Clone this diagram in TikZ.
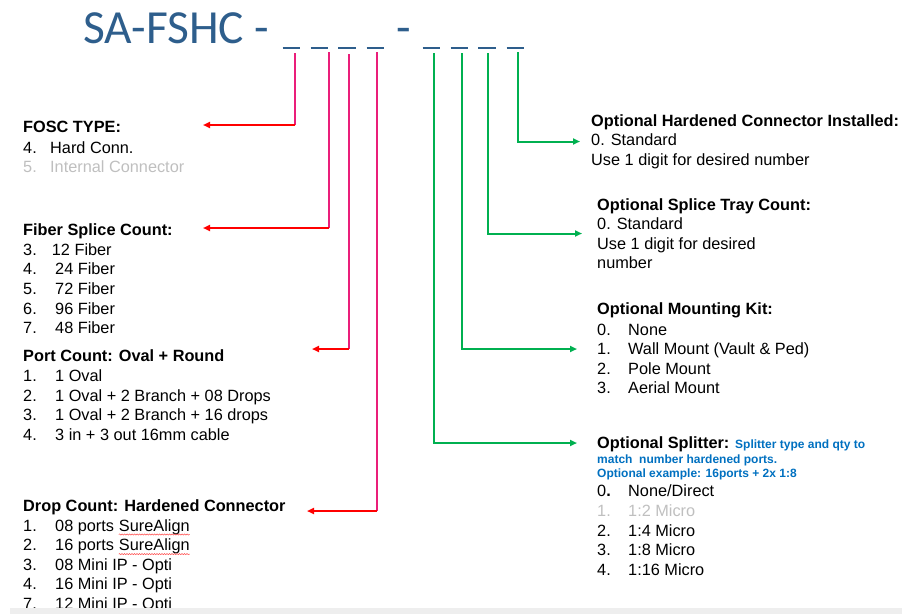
\documentclass[tikz,border=0pt]{standalone}
\usepackage{fontspec}
\setmainfont{Liberation Sans}
\newfontfamily\titlefont{Carlito}
\usetikzlibrary{arrows.meta,decorations.pathmorphing}
\definecolor{titleblue}{RGB}{46,94,140}
\definecolor{pinkline}{RGB}{234,30,122}
\definecolor{redline}{RGB}{255,0,0}
\definecolor{greenline}{RGB}{0,176,80}
\definecolor{noteblue}{RGB}{0,112,192}
\definecolor{grayed}{RGB}{191,191,191}
\definecolor{bandgray}{RGB}{238,238,238}
\begin{document}
\begin{tikzpicture}[x=1pt,y=-1pt,
  txt/.style={anchor=base west, inner sep=0pt, font=\fontsize{16.3}{19}\selectfont},
  hd/.style={anchor=base west, inner sep=0pt, font=\fontsize{16.3}{19}\selectfont\bfseries},
  note/.style={anchor=base west, inner sep=0pt, font=\fontsize{12}{14}\selectfont\bfseries, text=noteblue},
  dim/.style={text=grayed},
  ttl/.style={anchor=base west, inner sep=0pt, font=\titlefont\fontsize{47.5}{50}\selectfont, text=titleblue},
  blank/.style={draw=titleblue, line width=2.4pt},
  pinkv/.style={draw=pinkline, line width=2pt},
  redh/.style={draw=redline, line width=2pt, -{Triangle[length=7pt,width=6pt]}},
  greenl/.style={draw=greenline, line width=2pt, -{Triangle[length=7pt,width=6pt]}},
  squig/.style={draw=redline!70, line width=0.5pt, decorate, decoration={snake, amplitude=0.6pt, segment length=2.5pt}}]
\useasboundingbox (0,0) rectangle (902,614);

% title
\node[ttl] (title) at (83,43.5) {SA-FSHC -};
\node[ttl] (sep) at (396,43.5) {-};

% blanks
\foreach \x in {282.7,310.7,338.3,366.7,422.7,450.7,478.3,506.7}
  \draw[blank] (\x,48) -- ++(17.6,0);

% tops and corners of the connectors
\coordinate (p1) at (295.3,53);  \coordinate (q1) at (295.3,125);  \coordinate (a1) at (203,125);
\coordinate (p2) at (329,52);    \coordinate (q2) at (329,228);    \coordinate (a2) at (203,228);
\coordinate (p3) at (348.7,54);  \coordinate (q3) at (348.7,349);  \coordinate (a3) at (312,349);
\coordinate (p4) at (377,52);    \coordinate (q4) at (377,511);    \coordinate (a4) at (307,511);
\coordinate (g1) at (434,53);    \coordinate (h1) at (434,443);    \coordinate (b1) at (577,443);
\coordinate (g2) at (462,53);    \coordinate (h2) at (462,349);    \coordinate (b2) at (577,349);
\coordinate (g3) at (488,53);    \coordinate (h3) at (488,233.5);  \coordinate (b3) at (582,233.5);
\coordinate (g4) at (517.5,52);  \coordinate (h4) at (517.5,141.5);\coordinate (b4) at (580,141.5);

\draw[pinkv] (p1) -- (q1); \draw[redh] (q1) -- (a1);
\draw[pinkv] (p2) -- (q2); \draw[redh] (q2) -- (a2);
\draw[pinkv] (p3) -- (q3); \draw[redh] (q3) -- (a3);
\draw[pinkv] (p4) -- (q4); \draw[redh] (q4) -- (a4);
\draw[greenl] (g1) -- (h1) -- (b1);
\draw[greenl] (g2) -- (h2) -- (b2);
\draw[greenl] (g3) -- (h3) -- (b3);
\draw[greenl] (g4) -- (h4) -- (b4);

% left column
\node[hd] (fosc) at (23,132.5) {FOSC TYPE:};
\node[txt] (f4n) at (23,153) {4.};       \node[txt] (f4) at (50,153) {Hard Conn.};
\node[txt,dim] (f5n) at (23,172.7) {5.}; \node[txt,dim] (f5) at (50,172.7) {Internal Connector};

\node[hd] (fiber) at (23,235) {Fiber Splice Count:};
\node[txt] (s3n) at (23,255) {3.};   \node[txt] (s3) at (51.7,255) {12 Fiber};
\node[txt] (s4n) at (23,274.7) {4.}; \node[txt] (s4) at (55,274.7) {24 Fiber};
\node[txt] (s5n) at (23,294.4) {5.}; \node[txt] (s5) at (55,294.4) {72 Fiber};
\node[txt] (s6n) at (23,314.1) {6.}; \node[txt] (s6) at (55,314.1) {96 Fiber};
\node[txt] (s7n) at (23,333.8) {7.}; \node[txt] (s7) at (55,333.8) {48 Fiber};

\node[hd] (port) at (23,361) {Port Count: Oval + Round};
\node[txt] (o1n) at (23,381.5) {1.}; \node[txt] (o1) at (55,381.5) {1 Oval};
\node[txt] (o2n) at (23,401) {2.};   \node[txt] (o2) at (55,401) {1 Oval + 2 Branch + 08 Drops};
\node[txt] (o3n) at (23,420.5) {3.}; \node[txt] (o3) at (55,420.5) {1 Oval + 2 Branch + 16 drops};
\node[txt] (o4n) at (23,440) {4.};   \node[txt] (o4) at (55,440) {3 in + 3 out 16mm cable};

\node[hd] (drop) at (23,511.5) {Drop Count: Hardened Connector};
\node[txt] (d1n) at (23,531) {1.};   \node[txt] (d1) at (55,531) {08 ports};
\node[txt] (d1s) at ([xshift=4.5pt]d1.base east) {SureAlign};
\node[txt] (d2n) at (23,550.6) {2.}; \node[txt] (d2) at (55,550.6) {16 ports};
\node[txt] (d2s) at ([xshift=4.5pt]d2.base east) {SureAlign};
\node[txt] (d3n) at (23,570.2) {3.}; \node[txt] (d3) at (55,570.2) {08 Mini IP - Opti};
\node[txt] (d4n) at (23,589.8) {4.}; \node[txt] (d4) at (55,589.8) {16 Mini IP - Opti};
\node[txt] (d7n) at (23,609.4) {7.}; \node[txt] (d7) at (55,609.4) {12 Mini IP - Opti};
\draw[squig] ([yshift=-3.5pt]d1s.base west) -- ([yshift=-3.5pt]d1s.base east);
\draw[squig] ([yshift=-3.5pt]d2s.base west) -- ([yshift=-3.5pt]d2s.base east);

% right column
\node[hd] (hard) at (591,126) {Optional Hardened Connector Installed:};
\node[txt] (h0) at (591,145.7) {0. Standard};
\node[txt] (hu) at (591,165.3) {Use 1 digit for desired number};

\node[hd] (tray) at (597,210) {Optional Splice Tray Count:};
\node[txt] (t0) at (597,229.7) {0. Standard};
\node[txt] (tu) at (597,249.2) {Use 1 digit for desired};
\node[txt] (tu2) at (597,268.7) {number};

\node[hd] (mount) at (597,314.3) {Optional Mounting Kit:};
\node[txt] (m0n) at (597,335) {0.};   \node[txt] (m0) at (628,335) {None};
\node[txt] (m1n) at (597,354.5) {1.}; \node[txt] (m1) at (628,354.5) {Wall Mount (Vault \& Ped)};
\node[txt] (m2n) at (597,374) {2.};   \node[txt] (m2) at (628,374) {Pole Mount};
\node[txt] (m3n) at (597,393.5) {3.}; \node[txt] (m3) at (628,393.5) {Aerial Mount};

\node[hd] (split) at (597,448) {Optional Splitter:};
\node[note] (sn1) at (735,448) {Splitter type and qty to};
\node[note] (sn2) at (597,463.3) {match\ \ number hardened ports.};
\node[note] (sn3) at (597,477.5) {Optional example: 16ports + 2x 1:8};
\node[txt] (x0n) at (597,496.7) {0\textbf{.}}; \node[txt] (x0) at (628,496.7) {None/Direct};
\node[txt,dim] (x1n) at (597,516.3) {1.};     \node[txt,dim] (x1) at (628,516.3) {1:2 Micro};
\node[txt] (x2n) at (597,536) {2.};   \node[txt] (x2) at (628,536) {1:4 Micro};
\node[txt] (x3n) at (597,555.7) {3.}; \node[txt] (x3) at (628,555.7) {1:8 Micro};
\node[txt] (x4n) at (597,575.3) {4.}; \node[txt] (x4) at (628,575.3) {1:16 Micro};

% bottom band
\fill[bandgray] (10,608) rectangle (902,614);
\end{tikzpicture}
\end{document}
